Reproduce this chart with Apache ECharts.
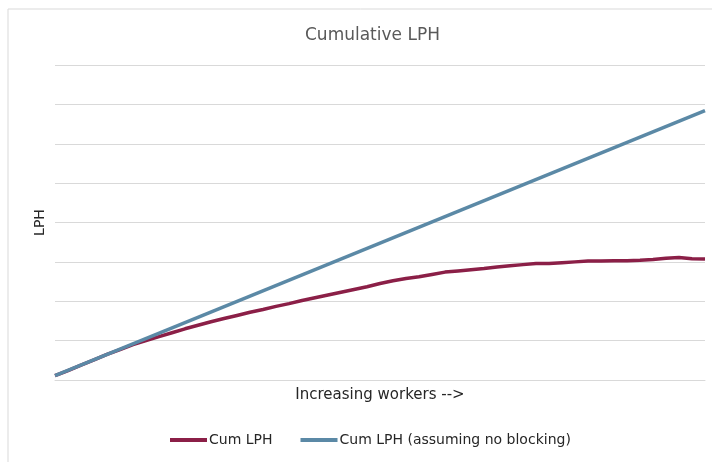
<!DOCTYPE html>
<html>
<head>
<meta charset="utf-8">
<script src="https://cdn.jsdelivr.net/npm/echarts@6/dist/echarts.min.js"></script>
<style>
  html, body { margin: 0; padding: 0; background: #fff; }
  #chart { width: 712px; height: 462px; }
</style>
</head>
<body>
<div id="chart"></div>
<script>
// workers along x (arbitrary units, no labels shown)
var workers = [];
for (var w = 0; w <= 50; w++) workers.push(w);

// cumulative LPH
var cumLph = [0.11, 0.24, 0.38, 0.51, 0.65, 0.77, 0.90, 1.00, 1.10, 1.20,
  1.30, 1.39, 1.48, 1.56, 1.64, 1.72, 1.79, 1.87, 1.94, 2.02,
  2.09, 2.16, 2.23, 2.30, 2.37, 2.45, 2.52, 2.58, 2.62, 2.68,
  2.74, 2.77, 2.80, 2.83, 2.87, 2.90, 2.93, 2.96, 2.96, 2.98,
  3.00, 3.02, 3.02, 3.03, 3.03, 3.04, 3.06, 3.09, 3.11, 3.08, 3.07];

// ideal line (no blocking): straight, only end points
var idealX = [0, 50];
var idealLph = [0.11, 6.84];

var seriesNames = ['Cum LPH', 'Cum LPH (assuming no blocking)'];

var chart = echarts.init(document.getElementById('chart'));

var option = {
  animation: false,
  backgroundColor: '#fff',
  title: {
    text: 'Cumulative LPH',
    left: 300,
    top: 22,
    textStyle: { fontFamily: 'DejaVu Sans', fontSize: 17, fontWeight: 'normal', color: '#595959' }
  },
  graphic: [{
    type: 'rect',
    shape: { x: 8, y: 9, width: 760, height: 500 },
    style: { fill: 'none', stroke: '#d9d9d9', lineWidth: 1 },
    silent: true
  }],
  legend: {
    bottom: 15,
    left: 170,
    padding: 0,
    icon: 'rect',
    itemWidth: 37,
    itemHeight: 4,
    itemGap: 28,
    data: seriesNames,
    textStyle: { fontFamily: 'DejaVu Sans', fontSize: 14, color: '#262626', padding: [0, 0, 0, -3] }
  },
  grid: { left: 55, right: 7, top: 65, bottom: 82 },
  xAxis: {
    type: 'value',
    min: 0,
    max: 50,
    name: 'Increasing workers -->',
    nameLocation: 'middle',
    nameGap: 8,
    nameTextStyle: { fontFamily: 'DejaVu Sans', fontSize: 15, color: '#262626', verticalAlign: 'top' },
    axisLine: { show: true, lineStyle: { color: '#d9d9d9' } },
    axisTick: { show: false },
    axisLabel: { show: false },
    splitLine: { show: false }
  },
  yAxis: {
    type: 'value',
    min: 0,
    max: 8,
    interval: 1,
    name: 'LPH',
    nameLocation: 'middle',
    nameGap: 8,
    nameTextStyle: { fontFamily: 'DejaVu Sans', fontSize: 14, color: '#262626' },
    axisLine: { show: false },
    axisTick: { show: false },
    axisLabel: { show: false },
    splitLine: { lineStyle: { color: '#d9d9d9' } }
  },
  series: [
    {
      name: seriesNames[0],
      type: 'line',
      showSymbol: false,
      color: '#8b1f47',
      lineStyle: { width: 3.5, color: '#8b1f47' },
      data: workers.map(function (x, i) { return [x, cumLph[i]]; })
    },
    {
      name: seriesNames[1],
      type: 'line',
      showSymbol: false,
      color: '#5b89a6',
      lineStyle: { width: 3.5, color: '#5b89a6' },
      data: idealX.map(function (x, i) { return [x, idealLph[i]]; })
    }
  ]
};

chart.setOption(option);
</script>
</body>
</html>
